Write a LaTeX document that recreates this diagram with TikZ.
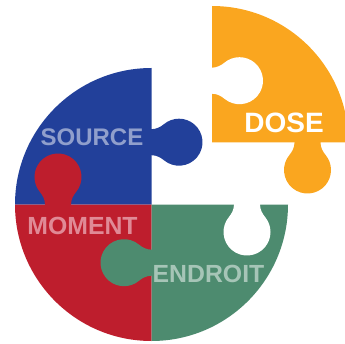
\documentclass[tikz,border=0pt]{standalone}
\usepackage{fontspec}
\setmainfont{Liberation Sans}
\definecolor{pblue}{HTML}{22409A}
\definecolor{pred}{HTML}{BE1E2D}
\definecolor{pgreen}{HTML}{4D8B6F}
\definecolor{porange}{HTML}{FAA61F}
\definecolor{tblue}{HTML}{909FCC}
\definecolor{tred}{HTML}{E08A96}
\definecolor{tgreen}{HTML}{A6C5B7}
\newcommand{\puzzletab}[4]{%
  \fill[#4,shift={(#1,#2)},rotate=#3]
    (-1,-13) -- (0,-13) .. controls (5,-13) and (9.3,-15.4) .. (12.4,-18)
    arc[start angle=-130,end angle=130,radius=23.5]
    .. controls (9.3,15.4) and (5,13) .. (0,13) -- (-1,13) -- cycle;}
\tikzset{
  lbl/.style={anchor=base,inner sep=0pt,font=\bfseries\fontsize{24.8}{25}\selectfont}
}
\begin{document}
\begin{tikzpicture}[x=1pt,y=1pt]
\useasboundingbox (0,0) rectangle (345,343);
\clip (0,0) rectangle (345,343);
% quarter discs
\fill[pblue] (151.5,138.5) -- (15,138.5) arc[start angle=180,end angle=90,radius=136.5] -- cycle;
\fill[pred] (151.5,138.5) -- (151.5,2) arc[start angle=270,end angle=180,radius=136.5] -- cycle;
\fill[pgreen] (151.5,138.5) -- (288,138.5) arc[start angle=0,end angle=-90,radius=136.5] -- cycle;
\fill[porange] (212,200.5) -- (212,337) arc[start angle=90,end angle=0,radius=136.5] -- cycle;
% tabs and sockets
\puzzletab{151.5}{200.8}{0}{pblue}
\puzzletab{58}{138.5}{90}{pred}
\puzzletab{151.5}{80.3}{180}{pgreen}
\puzzletab{247}{138.5}{-90}{white}
\puzzletab{212}{262.3}{0}{white}
\puzzletab{307.5}{200.5}{-90}{porange}
% labels
\node[lbl,text=tblue,font=\bfseries\fontsize{24}{24}\selectfont] (source) at (92,197) {SOURCE};
\node[lbl,text=tred] (moment) at (82.5,109) {MOMENT};
\node[lbl,text=tgreen] (endroit) at (208.5,60.7) {ENDROIT};
\node[lbl,text=white,font=\bfseries\fontsize{28}{28}\selectfont] (dose) at (284,210.3) {DOSE};
\end{tikzpicture}
\end{document}
